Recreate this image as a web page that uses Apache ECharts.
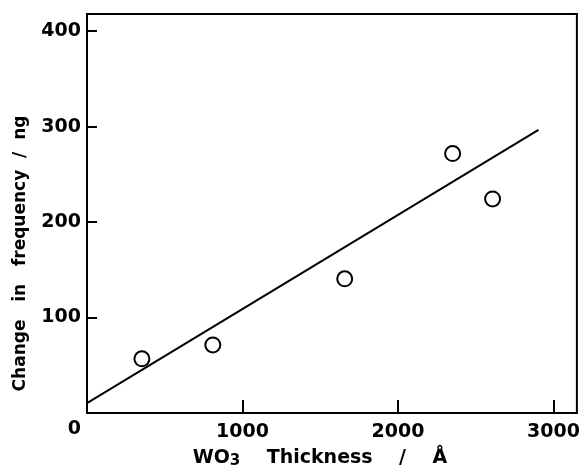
<!DOCTYPE html>
<html>
<head>
<meta charset="utf-8">
<script src="https://cdn.jsdelivr.net/npm/echarts@6/dist/echarts.min.js"></script>
<style>html,body{margin:0;padding:0;background:#fff;overflow:hidden}#c{width:583px;height:474px}</style>
</head>
<body>
<div id="c"></div>
<script>
// Data
var thickness = [353, 809, 1657, 2351, 2608];
var freqChange = [56.8, 71.3, 140.6, 271.8, 224.3];
var fitX = [0, 2903];
var fitY = [10.3, 296.6];
var xTicks = [1000, 2000, 3000];
var yTicks = [100, 200, 300, 400];
var yLabels = [0, 100, 200, 300, 400];
var xLabels = [1000, 2000, 3000];

var points = thickness.map(function (x, i) { return [x, freqChange[i]]; });
var fitLine = fitX.map(function (x, i) { return [x, fitY[i]]; });

var FONT = 'DejaVu Sans';
var chart = echarts.init(document.getElementById('c'), null, {renderer: 'canvas'});
chart.setOption({
  backgroundColor: '#fff',
  animation: false,
  grid: {left: 87, right: 6, top: 14, bottom: 55, show: true, borderColor: '#000', borderWidth: 2, backgroundColor: 'transparent'},
  xAxis: {
    type: 'value', min: 0, max: 3150,
    axisLine: {lineStyle: {color: '#000', width: 2}},
    axisTick: {inside: true, length: 13, lineStyle: {color: '#000', width: 2}, customValues: xTicks},
    axisLabel: {customValues: xLabels, color: '#000', fontFamily: FONT, fontWeight: 'bold', fontSize: 19, margin: 10,
      formatter: function (v) { return String(v); }},
    splitLine: {show: false},
    name: '{a|WO}{s|3}{a|    Thickness    /    Å}',
    nameLocation: 'middle', nameGap: 34,
    nameTextStyle: {
      padding: [0, 24, 0, 0],
      rich: {
        a: {fontFamily: FONT, fontWeight: 'bold', fontSize: 19, color: '#000'},
        s: {fontFamily: FONT, fontWeight: 'bold', fontSize: 15, color: '#000', verticalAlign: 'bottom', padding: [7, 0, 0, 0]}
      }
    }
  },
  yAxis: {
    type: 'value', min: 0, max: 418,
    axisLine: {lineStyle: {color: '#000', width: 2}},
    axisTick: {inside: true, length: 10, lineStyle: {color: '#000', width: 2}, customValues: yTicks},
    axisLabel: {customValues: yLabels, color: '#000', fontFamily: FONT, fontWeight: 'bold', fontSize: 19, margin: 6,
      formatter: function (v) { return v === 0 ? '{z|0}' : String(v); },
      rich: {z: {fontFamily: FONT, fontWeight: 'bold', fontSize: 19, color: '#000', padding: [32, 0, 0, 0]}}},
    splitLine: {show: false},
    name: 'Change   in   frequency  /  ng',
    nameLocation: 'middle', nameGap: 58, nameRotate: 90,
    nameTextStyle: {fontFamily: FONT, fontWeight: 'bold', fontSize: 17, color: '#000', padding: [0, 80, 0, 0]}
  },
  series: [
    {type: 'line', data: fitLine, symbol: 'none', lineStyle: {color: '#000', width: 2}, z: 2},
    {type: 'scatter', data: points, symbol: 'circle', symbolSize: 15,
     itemStyle: {color: '#fff', borderColor: '#000', borderWidth: 2, opacity: 1}, z: 3}
  ]
});
</script>
</body>
</html>
